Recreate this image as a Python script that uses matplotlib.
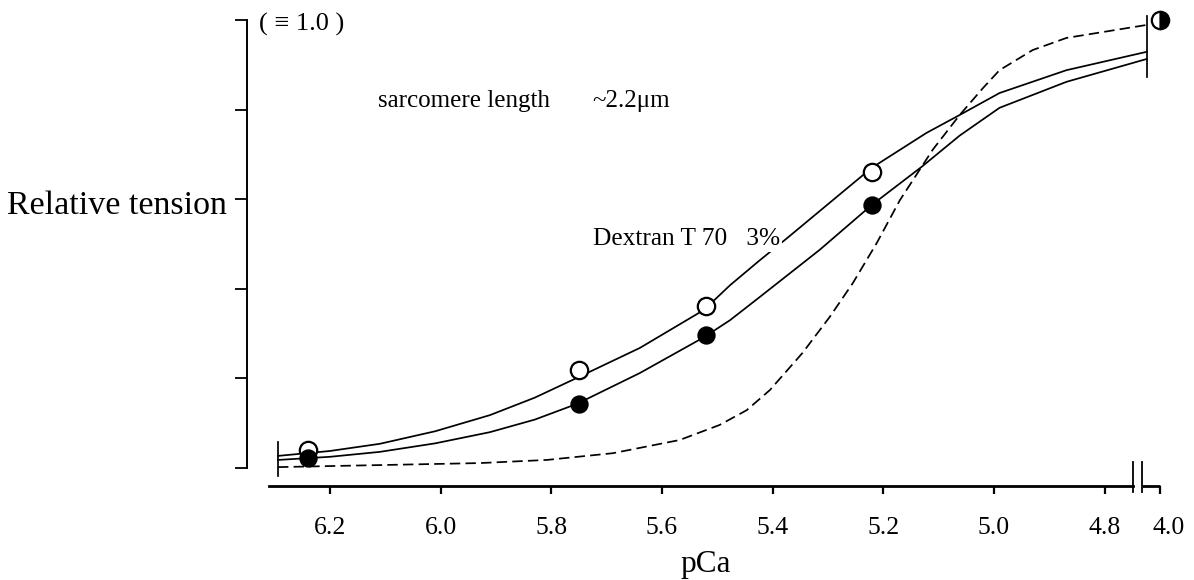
import numpy as np
import matplotlib
matplotlib.use("Agg")
import matplotlib.pyplot as plt
import matplotlib.transforms as mtransforms

# ---------------- data ----------------
pca_points = [6.24, 5.75, 5.52, 5.22]
open_tension = [0.040, 0.219, 0.362, 0.661]
filled_tension = [0.022, 0.143, 0.297, 0.587]
pca_max = [4.0]
tension_max = [1.0]

upper_pca = [6.294, 6.200, 6.110, 6.010, 5.911, 5.830, 5.754, 5.640, 5.524,
             5.477, 5.423, 5.374, 5.221, 5.122, 5.062, 4.990, 4.869, 4.724]
upper_t = [0.027, 0.038, 0.054, 0.082, 0.118, 0.157, 0.201, 0.268, 0.353,
           0.408, 0.464, 0.513, 0.670, 0.748, 0.788, 0.837, 0.888, 0.929]

lower_pca = [6.294, 6.200, 6.110, 6.010, 5.911, 5.830, 5.754, 5.640, 5.524,
             5.477, 5.423, 5.315, 5.221, 5.131, 5.062, 4.990, 4.869, 4.724]
lower_t = [0.018, 0.025, 0.036, 0.055, 0.080, 0.108, 0.143, 0.212, 0.292,
           0.330, 0.382, 0.487, 0.587, 0.672, 0.742, 0.804, 0.862, 0.913]

dashed_pca = [6.294, 5.929, 5.808, 5.689, 5.568, 5.496, 5.447, 5.405, 5.346,
              5.297, 5.255, 5.212, 5.170, 5.131, 5.111, 5.062, 5.020, 4.990,
              4.930, 4.869, 4.724]
dashed_t = [0.002, 0.011, 0.018, 0.033, 0.0625, 0.096, 0.129, 0.174, 0.257,
            0.337, 0.413, 0.502, 0.598, 0.672, 0.710, 0.788, 0.848, 0.888,
            0.933, 0.960, 0.989]

xtick_vals = [6.2, 6.0, 5.8, 5.6, 5.4, 5.2, 5.0, 4.8, 4.0]
xtick_labels = ["6.2", "6.0", "5.8", "5.6", "5.4", "5.2", "5.0", "4.8", "4.0"]
ytick_vals = [0.0, 0.2, 0.4, 0.6, 0.8, 1.0]

# ---------------- figure ----------------
SERIF = ["Liberation Serif", "DejaVu Serif"]
plt.rcParams["font.family"] = SERIF
W, H = 1194, 580
fig = plt.figure(figsize=(W / 100, H / 100), dpi=100)

ax_left, ax_right, ax_top, ax_bottom = 247, 1160, 20, 486
ax = fig.add_axes([ax_left / W, 1 - ax_bottom / H,
                   (ax_right - ax_left) / W, (ax_bottom - ax_top) / H])

# broken x scale: 4.0 squeezed right next to 4.72
B = 4.72
C = 0.02 / 0.72


def fwd(p):
    p = np.asarray(p, dtype=float)
    return np.where(p >= B, p, B - (B - p) * C)


def inv(t):
    t = np.asarray(t, dtype=float)
    return np.where(t >= B, t, B - (B - t) / C)


ax.set_xscale("function", functions=(fwd, inv))
ax.set_xlim(6.35, 4.0)
ax.set_ylim(-18 / 448, 1.0)

LW = 1.25
ax.plot(upper_pca, upper_t, color="black", lw=LW, zorder=3,
        solid_joinstyle="round")
ax.plot(lower_pca, lower_t, color="black", lw=LW, zorder=3,
        solid_joinstyle="round")
ax.plot(dashed_pca, dashed_t, color="black", lw=LW, dashes=(6, 3), zorder=3)

# vertical end bars of the curves
starts = [upper_t[0], lower_t[0], dashed_t[0]]
ends = [upper_t[-1], lower_t[-1], dashed_t[-1]]
ax.plot([upper_pca[0]] * 2, [min(starts) - 0.02, max(starts) + 0.03],
        color="black", lw=LW, clip_on=False)
ax.plot([upper_pca[-1]] * 2, [min(ends) - 0.04, max(ends) + 0.02],
        color="black", lw=LW, clip_on=False)

# data points
ax.plot(pca_points, open_tension, "o", ms=12.5, mfc="white", mec="black",
        mew=1.6, zorder=5, clip_on=False)
ax.plot(pca_points, filled_tension, "o", ms=12, mfc="black", mec="black",
        mew=1.2, zorder=6, clip_on=False)
ax.plot(pca_max, tension_max, "o", ms=12.5, mfc="black", mec="black",
        mew=1.6, fillstyle="right", markerfacecoloralt="white",
        zorder=6, clip_on=False)

# spines
for s in ("top", "right"):
    ax.spines[s].set_visible(False)
ax.spines["left"].set_bounds(0.0, 1.0)
ax.spines["left"].set_linewidth(1.4)
ax.spines["bottom"].set_bounds(6.31, 4.749)
ax.spines["bottom"].set_linewidth(2.0)

trans = mtransforms.blended_transform_factory(ax.transData, ax.transAxes)
ax.plot([4.733, 4.0], [0, 0], color="black", lw=2.0, transform=trans,
        clip_on=False, solid_capstyle="butt")
for xb in (4.749, 4.733):
    ax.plot([xb, xb], [-0.054, 0.013], color="black", lw=1.3, clip_on=False)

ax.set_yticks(ytick_vals)
ax.set_yticklabels([])
ax.tick_params(axis="y", direction="out", length=8.5, width=1.3)
ax.set_xticks(xtick_vals)
ax.set_xticklabels(xtick_labels, fontsize=18.5, family=SERIF)
ax.tick_params(axis="x", direction="out", length=6, width=1.6, pad=16)
ax.xaxis.set_minor_locator(matplotlib.ticker.NullLocator())
lbls = ax.get_xticklabels()
lbls[-1].set_transform(lbls[-1].get_transform() +
                       mtransforms.ScaledTranslation(9 / 100, 0, fig.dpi_scale_trans))

# texts


def ftext(x, y, s, **kw):
    fig.text(x / W, 1 - y / H, s, va="baseline", **kw)


ftext(7, 214, "Relative tension", fontsize=24.5)
ftext(680, 572, "pCa", fontsize=22.5)
ftext(259, 31, "( \u2261 1.0 )", fontsize=19)
ftext(378, 107, "sarcomere length", fontsize=18)
ftext(592, 107, "~2.2\u03bcm", fontsize=18)
ftext(593, 245, "Dextran T 70   3%", fontsize=18.3, zorder=10,
      bbox=dict(facecolor="white", edgecolor="none", pad=1.5))

fig.savefig("out.png", dpi=100)
